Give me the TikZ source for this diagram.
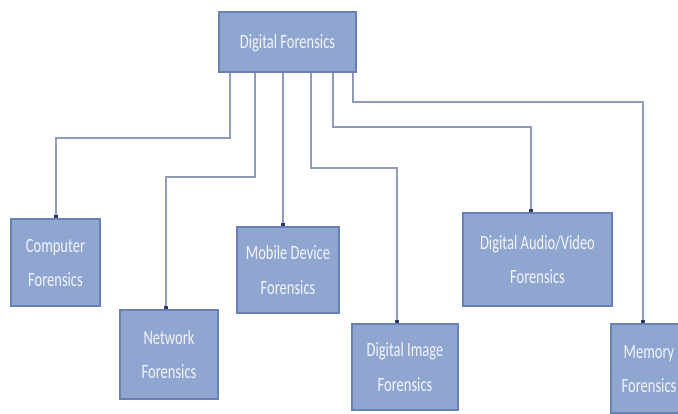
\documentclass[tikz,border=0pt]{standalone}
\usepackage{fontspec}
\setmainfont{Carlito}
\usepackage{xcolor}
\usepackage{graphicx}
\usepackage{tikz}
\usetikzlibrary{arrows.meta,positioning}
\definecolor{boxfill}{HTML}{8FA6D1}
\definecolor{boxline}{HTML}{6A80B2}
\definecolor{wire}{HTML}{8E9CBA}
\definecolor{tipnavy}{HTML}{2B3A67}
\definecolor{labelgray}{HTML}{F2F4F9}
\newcommand{\boxtext}[1]{\scalebox{1}[1.4]{\renewcommand{\arraystretch}{1.45}\begin{tabular}{@{}c@{}}#1\end{tabular}}}

\begin{document}
\begin{tikzpicture}[x=1pt,y=1pt,
    every node/.style={font=\fontsize{14.5}{17}\selectfont,text=labelgray},
    area/.style={draw=boxline,line width=1.6pt,fill=boxfill,inner sep=0pt},
    link/.style={draw=wire,line width=2.2pt,-{Square[length=3.5pt,width=4pt,color=tipnavy]}}]
  \useasboundingbox (0,0) rectangle (678,414);
  \clip (0,0) rectangle (678,414);
  \node[area,minimum width=137,minimum height=60] (root) at (287.5,372) {\boxtext{Digital Forensics}};
  \node[area,minimum width=89,minimum height=87] (comp) at (55.5,151.5) {\boxtext{Computer\\Forensics}};
  \node[area,minimum width=98,minimum height=89] (net) at (169,59.5) {\boxtext{Network\\Forensics}};
  \node[area,minimum width=102,minimum height=86] (mob) at (288,144) {\boxtext{Mobile Device\\Forensics}};
  \node[area,minimum width=106,minimum height=86] (img) at (405,47) {\boxtext{Digital Image\\Forensics}};
  \node[area,minimum width=149,minimum height=93] (av) at (537.5,154.5) {\boxtext{Digital Audio/Video\\Forensics}};
  \node[area,minimum width=76,minimum height=89] (mem) at (649,45.5) {\boxtext{Memory\\Forensics}};
  % elbow connectors
  \foreach \s/\d/\t/\e in {-57.5/-65/comp/0.5,-32.5/-104/net/-3,23.5/-95/img/-8,45.5/-54/av/-6.5,65.5/-29/mem/-6} {
    \draw[link] ([xshift=\s]root.south) -- ++(0,\d) -| ([xshift=\e]\t.north);
  }
  \draw[link] ([xshift=-4.5]root.south) -- ([xshift=-5]mob.north);
\end{tikzpicture}
\end{document}
